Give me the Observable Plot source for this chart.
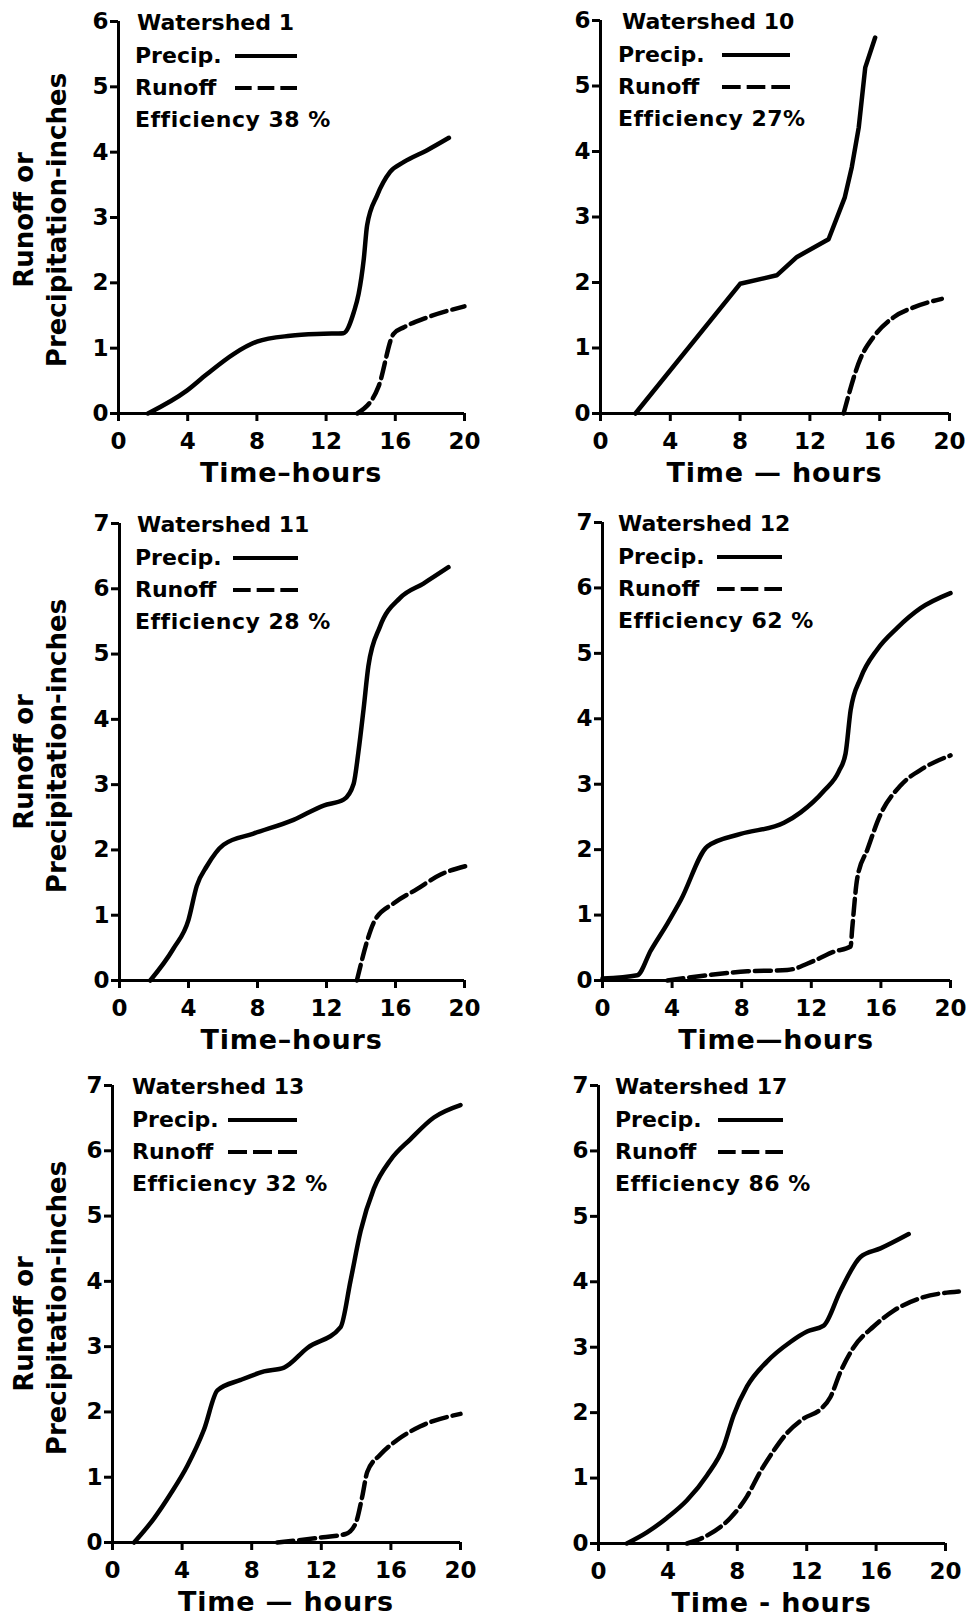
<!DOCTYPE html>
<html>
<head>
<meta charset="utf-8">
<script src="https://cdn.jsdelivr.net/npm/d3@7"></script>
<script src="https://cdn.jsdelivr.net/npm/@observablehq/plot@0.6"></script>
<style>
  body { margin: 0; background: #fff; }
  #fig { position: relative; width: 967px; height: 1617px; overflow: hidden;
         font-family: "DejaVu Sans", sans-serif; font-weight: bold; color: #000; background: #fff; }
  .t { position: absolute; white-space: nowrap; line-height: 1; }
  #fig svg text { font-size: 23px; font-weight: bold; font-family: "DejaVu Sans", sans-serif; }
</style>
</head>
<body>
<div id="fig"></div>
<script>
// ---------- chart text ----------
const panelNames = ["Watershed 1", "Watershed 10", "Watershed 11", "Watershed 12", "Watershed 13", "Watershed 17"];
const efficiencyLabels = ["Efficiency 38 %", "Efficiency 27%", "Efficiency 28 %", "Efficiency 62 %", "Efficiency 32 %", "Efficiency 86 %"];
const xAxisTitles = ["Time–hours", "Time — hours", "Time–hours", "Time—hours", "Time — hours", "Time - hours"];
const yTitleLines = ["Runoff or", "Precipitation-inches"];
const legendLabels = ["Precip.", "Runoff"];
const yMaxes = [6, 6, 7, 7, 7, 7];
const xTicks = [0, 4, 8, 12, 16, 20];

// ---------- series (hours, inches) ----------
const ws1PrecipHours  = [1.7, 3.95, 5.1, 6.65, 8.0, 9.93, 11.86, 13.0, 13.6, 13.88, 14.18, 14.37, 14.95, 15.7, 16.5, 17.84, 19.1];
const ws1PrecipInches = [0, 0.35, 0.6, 0.91, 1.10, 1.19, 1.22, 1.23, 1.55, 1.83, 2.37, 2.88, 3.34, 3.70, 3.85, 4.03, 4.22];
const ws1RunoffHours  = [13.8, 15.04, 15.9, 16.5, 17.84, 20.0];
const ws1RunoffInches = [0, 0.42, 1.22, 1.32, 1.47, 1.64];

const ws10PrecipHours  = [2.0, 8.0, 10.1, 11.26, 13.07, 14.0, 14.4, 14.8, 15.17, 15.74];
const ws10PrecipInches = [0, 1.98, 2.11, 2.39, 2.66, 3.30, 3.76, 4.37, 5.28, 5.74];
const ws10RunoffHours  = [13.93, 14.9, 15.65, 16.8, 17.94, 19.56];
const ws10RunoffInches = [0, 0.84, 1.17, 1.47, 1.62, 1.75];

const ws11PrecipHours  = [1.78, 3.13, 4.0, 4.48, 5.06, 6.03, 7.77, 10.09, 11.83, 12.99, 13.57, 13.85, 14.15, 14.43, 15.1, 16.27, 17.62, 19.07];
const ws11PrecipInches = [0, 0.49, 0.93, 1.45, 1.75, 2.08, 2.25, 2.46, 2.68, 2.77, 3.01, 3.50, 4.16, 4.82, 5.42, 5.86, 6.08, 6.33];
const ws11RunoffHours  = [13.76, 14.82, 15.88, 17.24, 18.59, 20.04];
const ws11RunoffInches = [0, 0.93, 1.18, 1.40, 1.62, 1.75];

const ws12PrecipHours  = [0, 2.0, 2.78, 3.73, 4.5, 6.03, 7.94, 10.43, 11.39, 12.73, 13.59, 13.97, 14.26, 14.83, 15.79, 16.94, 18.28, 20.0];
const ws12PrecipInches = [0.03, 0.08, 0.46, 0.87, 1.23, 2.05, 2.24, 2.41, 2.57, 2.90, 3.20, 3.47, 4.13, 4.62, 5.06, 5.39, 5.69, 5.92];
const ws12RunoffHours  = [3.73, 6.03, 8.33, 10.62, 12.15, 13.3, 14.26, 14.35, 14.64, 15.22, 15.98, 17.13, 18.47, 20.0];
const ws12RunoffInches = [0, 0.08, 0.14, 0.16, 0.30, 0.44, 0.52, 0.79, 1.56, 2.0, 2.54, 2.98, 3.25, 3.44];

const ws13PrecipHours  = [1.24, 2.39, 3.35, 4.31, 5.26, 6.03, 7.37, 8.71, 9.86, 11.2, 13.11, 13.68, 14.26, 15.02, 15.98, 17.13, 18.47, 20.0];
const ws13PrecipInches = [0, 0.37, 0.75, 1.18, 1.73, 2.33, 2.49, 2.62, 2.68, 2.98, 3.30, 4.01, 4.77, 5.42, 5.86, 6.18, 6.51, 6.70];
const ws13RunoffHours  = [9.47, 11.77, 13.4, 13.97, 14.35, 14.64, 15.41, 16.36, 17.7, 20.0];
const ws13RunoffInches = [0, 0.07, 0.13, 0.29, 0.70, 1.08, 1.35, 1.57, 1.78, 1.97];

const ws17PrecipHours  = [1.63, 2.79, 3.94, 5.1, 6.25, 7.21, 7.79, 8.56, 9.71, 11.06, 12.02, 12.98, 13.94, 15.1, 16.25, 17.88];
const ws17PrecipInches = [0, 0.17, 0.39, 0.66, 1.04, 1.48, 1.96, 2.40, 2.78, 3.08, 3.24, 3.33, 3.86, 4.38, 4.51, 4.73];
const ws17RunoffHours  = [5.1, 6.25, 7.6, 8.56, 9.33, 10.1, 10.87, 11.83, 12.79, 13.37, 13.94, 14.71, 15.87, 17.02, 18.56, 20.77];
const ws17RunoffInches = [0, 0.12, 0.39, 0.72, 1.10, 1.42, 1.69, 1.91, 2.05, 2.24, 2.62, 3.0, 3.32, 3.56, 3.75, 3.85];

// ---------- layout (page pixels) ----------
const layouts = [
  {left: 0,   top: 0,    w: 483, h: 500, x0: 118, x20: 464, yTop: 21,   y0: 413,  title: 19, text: 17, l1: 117, l2: 179, yt: true,  pc: "monotone-x"},
  {left: 483, top: 0,    w: 484, h: 500, x0: 600, x20: 949, yTop: 20,   y0: 413,  title: 22, text: 18, l1: 122, l2: 190, yt: false, pc: "linear"},
  {left: 0,   top: 500,  w: 483, h: 560, x0: 119, x20: 464, yTop: 523,  y0: 980,  title: 18, text: 16, l1: 114, l2: 179, yt: true,  pc: "monotone-x"},
  {left: 483, top: 500,  w: 484, h: 560, x0: 602, x20: 950, yTop: 522,  y0: 980,  title: 16, text: 16, l1: 115, l2: 180, yt: false, pc: "monotone-x"},
  {left: 0,   top: 1060, w: 483, h: 557, x0: 112, x20: 460, yTop: 1085, y0: 1542, title: 20, text: 20, l1: 116, l2: 185, yt: true,  pc: "monotone-x"},
  {left: 483, top: 1060, w: 484, h: 557, x0: 598, x20: 945, yTop: 1085, y0: 1543, title: 17, text: 17, l1: 120, l2: 185, yt: false, pc: "monotone-x"}
];
const legendRowOffsets = [2, 35, 67, 99];

const series = [
  [ws1PrecipHours, ws1PrecipInches, ws1RunoffHours, ws1RunoffInches],
  [ws10PrecipHours, ws10PrecipInches, ws10RunoffHours, ws10RunoffInches],
  [ws11PrecipHours, ws11PrecipInches, ws11RunoffHours, ws11RunoffInches],
  [ws12PrecipHours, ws12PrecipInches, ws12RunoffHours, ws12RunoffInches],
  [ws13PrecipHours, ws13PrecipInches, ws13RunoffHours, ws13RunoffInches],
  [ws17PrecipHours, ws17PrecipInches, ws17RunoffHours, ws17RunoffInches]
];

const fig = document.getElementById("fig");

function addText(str, x, y, size, mode, spacing) {
  const d = document.createElement("div");
  d.className = "t";
  d.textContent = str;
  d.style.left = x + "px";
  d.style.top = y + "px";
  d.style.fontSize = size + "px";
  if (spacing) d.style.letterSpacing = spacing + "px";
  if (mode === "middle") d.style.transform = "translate(-50%,-50%)";
  else if (mode === "rot") d.style.transform = "translate(-50%,-50%) rotate(-90deg)";
  else d.style.transform = "translateY(-50%)";
  fig.appendChild(d);
}

function addSample(x1, x2, y, dashed) {
  const ns = "http://www.w3.org/2000/svg";
  const s = document.createElementNS(ns, "svg");
  const len = x2 - x1;
  s.setAttribute("width", len);
  s.setAttribute("height", 8);
  s.style.position = "absolute";
  s.style.left = x1 + "px";
  s.style.top = (y - 4) + "px";
  const l = document.createElementNS(ns, "line");
  l.setAttribute("x1", 0); l.setAttribute("x2", len);
  l.setAttribute("y1", 4); l.setAttribute("y2", 4);
  l.setAttribute("stroke", "#000");
  l.setAttribute("stroke-width", 4);
  if (dashed) {
    const dash = (len - 12) / 3;
    l.setAttribute("stroke-dasharray", dash + "," + 6);
  }
  s.appendChild(l);
  fig.appendChild(s);
}

layouts.forEach((L, i) => {
  const [pt, pv, rt, rv] = series[i];
  const precip = pt.map((t, k) => ({t, v: pv[k]}));
  const runoff = rt.map((t, k) => ({t, v: rv[k]}));
  const ymax = yMaxes[i];
  const yTicks = d3.range(0, ymax + 1);

  const svg = Plot.plot({
    width: L.w,
    height: L.h,
    marginLeft: L.x0 - L.left,
    marginRight: L.left + L.w - L.x20,
    marginTop: L.yTop - L.top,
    marginBottom: L.top + L.h - L.y0,
    x: {domain: [0, 20]},
    y: {domain: [0, ymax]},
    style: {fontFamily: "DejaVu Sans", fontWeight: "bold", fontSize: "23px", color: "#000", background: "transparent", overflow: "visible"},
    marks: [
      Plot.ruleY([0], {strokeWidth: 3}),
      Plot.ruleX([0], {strokeWidth: 3}),
      Plot.axisX({ticks: xTicks, tickFormat: d => String(d), tickSize: 8, tickPadding: 11, strokeWidth: 3, label: null, fontSize: 23, fontWeight: "bold"}),
      Plot.axisY({ticks: yTicks, tickFormat: d => String(d), tickSize: 8, tickPadding: 2, strokeWidth: 3, label: null, fontSize: 23, fontWeight: "bold"}),
      Plot.line(precip, {x: "t", y: "v", curve: L.pc, strokeWidth: 4.5, strokeLinejoin: "round"}),
      Plot.line(runoff, {x: "t", y: "v", curve: "monotone-x", strokeWidth: 4.5, strokeDasharray: "16,6"})
    ]
  });
  svg.style.position = "absolute";
  svg.style.left = L.left + "px";
  svg.style.top = L.top + "px";
  fig.appendChild(svg);

  // legend block
  addText(panelNames[i], L.x0 + L.title, L.yTop + legendRowOffsets[0], 22);
  addText(legendLabels[0], L.x0 + L.text, L.yTop + legendRowOffsets[1], 22);
  addText(legendLabels[1], L.x0 + L.text, L.yTop + legendRowOffsets[2], 22);
  addText(efficiencyLabels[i], L.x0 + L.text, L.yTop + legendRowOffsets[3], 22, null, 0.5);
  addSample(L.x0 + L.l1, L.x0 + L.l2, L.yTop + legendRowOffsets[1], false);
  addSample(L.x0 + L.l1, L.x0 + L.l2, L.yTop + legendRowOffsets[2], true);

  // x-axis title
  addText(xAxisTitles[i], (L.x0 + L.x20) / 2, L.y0 + 59, 27, "middle", 0.8);

  // y-axis title (left column only)
  if (L.yt) {
    const mid = (L.yTop + L.y0) / 2;
    const off = i === 0 ? 3 : 0;
    addText(yTitleLines[0], 24, mid + off + (i === 0 ? 0 : 10), 26, "rot");
    addText(yTitleLines[1], 57, mid + off - (i === 0 ? 0 : 6), 26, "rot");
  }
});
</script>
</body>
</html>
